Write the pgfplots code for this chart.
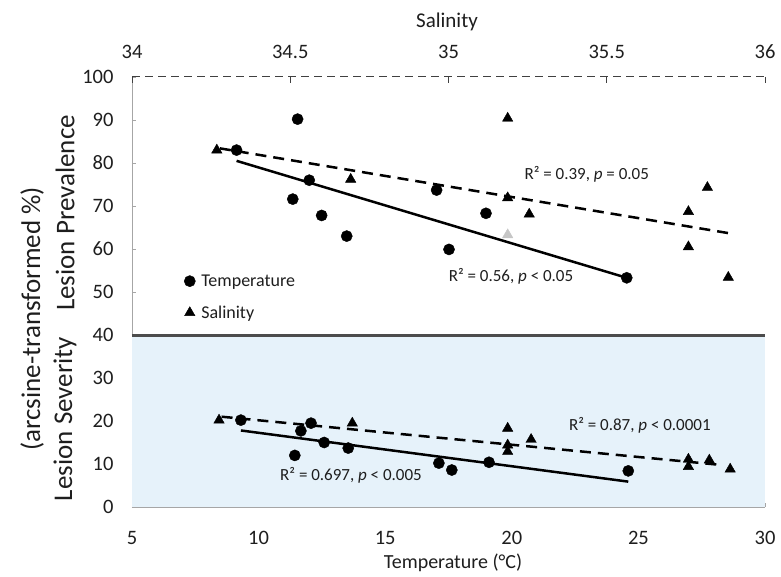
\documentclass[border=0pt]{standalone}
\usepackage{fontspec}
\setmainfont{Carlito}
\usepackage{pgfplots}
\pgfplotsset{compat=1.18}
\definecolor{bluebg}{RGB}{230,242,250}
\definecolor{txt}{RGB}{30,30,30}
\begin{document}
\begin{tikzpicture}
\path[use as bounding box] (-132pt,-69pt) rectangle (649pt,507pt);
% ---------- main axis: temperature ----------
\begin{axis}[
  at={(0pt,0pt)}, anchor=south west,
  scale only axis, width=633pt, height=430pt,
  xmin=5, xmax=30, ymin=0, ymax=100,
  axis x line*=bottom, axis y line*=left,
  axis line style={gray!70, line width=0.8pt, -},
  xtick={5,10,...,30}, ytick={0,10,...,100},
  tick align=inside, major tick length=4pt,
  tick style={gray!70, line width=0.6pt},
  /pgf/number format/assume math mode=true,
  ticklabel style={font=\fontsize{20.5}{24}\selectfont, text=txt},
  yticklabel style={xshift=-15pt},
  xticklabel style={yshift=-21pt},
  legend style={at={(0.0815,0.488)}, anchor=west, draw=none, fill=none,
    font=\fontsize{18}{21}\selectfont, text=txt, row sep=15pt, inner sep=0pt,
    nodes={inner sep=1.5pt}},
  legend cell align=left,
  legend image code/.code={\draw[mark repeat=2,mark phase=2,#1] plot coordinates {(0pt,0pt) (6pt,0pt) (12pt,0pt)};\path[draw=none,fill=none] (0pt,0pt) -- (16pt,0pt);},
]
\addplot[draw=none, fill=bluebg, forget plot] coordinates {(5,40) (30,40)} \closedcycle;
\addplot[black!70, line width=3pt, forget plot] coordinates {(5,40) (30,40)};
% regression lines (temperature)
\addplot[black, line width=2.5pt, forget plot] coordinates {(9.13,80.5) (24.54,53.3)};
\addplot[black, line width=2.5pt, forget plot] coordinates {(9.30,17.8) (24.60,5.9)};
% prevalence vs temperature
\addplot[only marks, mark=*, mark size=5.6pt, black] coordinates {
 (11.54,90.2) (9.13,83.0) (12.00,76.0) (11.35,71.6) (12.49,67.8)
 (13.48,63.0) (17.03,73.7) (18.98,68.3) (17.52,59.9) (24.54,53.3)};
\addlegendentry{Temperature}
% severity vs temperature
\addplot[only marks, mark=*, mark size=5.6pt, black, forget plot] coordinates {
 (9.30,20.2) (11.67,17.7) (12.07,19.5) (11.43,12.0) (12.59,15.0)
 (13.54,13.7) (17.12,10.2) (17.63,8.6) (19.10,10.4) (24.60,8.4)};
\addlegendimage{only marks, mark=triangle*, mark size=6pt, black}
\addlegendentry{Salinity}
\node[font=\fontsize{17}{20}\selectfont, text=txt] at (axis cs:22.96,77.4) {R² = 0.39, \textit{p} = 0.05};
\node[font=\fontsize{17}{20}\selectfont, text=txt] at (axis cs:19.97,53.7) {R² = 0.56, \textit{p} < 0.05};
\node[font=\fontsize{17}{20}\selectfont, text=txt] at (axis cs:25.06,19.1) {R² = 0.87, \textit{p} < 0.0001};
\node[font=\fontsize{17}{20}\selectfont, text=txt] at (axis cs:13.65,7.4) {R² = 0.697, \textit{p} < 0.005};
\end{axis}
% ---------- secondary axis: salinity ----------
\begin{axis}[
  at={(0pt,0pt)}, anchor=south west,
  scale only axis, width=633pt, height=430pt,
  xmin=34, xmax=36, ymin=0, ymax=100,
  axis x line*=top, axis y line=none,
  axis line style={black!75, line width=1pt, dash pattern=on 8pt off 5pt, -},
  xtick={34,34.5,35,35.5,36},
  tick align=inside, major tick length=6pt,
  tick style={black!75, line width=1pt, solid},
  /pgf/number format/assume math mode=true,
  ticklabel style={font=\fontsize{20.5}{24}\selectfont, text=txt},
  xticklabel style={yshift=15pt},
]
\addplot[black, line width=2.5pt, dash pattern=on 11pt off 7pt] coordinates {(34.278,83.4) (35.884,63.7)};
\addplot[black, line width=2.5pt, dash pattern=on 11pt off 7pt] coordinates {(34.283,21.0) (35.858,9.8)};
\addplot[only marks, mark=triangle*, mark size=6pt, black] coordinates {
 (34.268,83.0) (34.691,76.2) (35.187,90.4) (35.187,71.9) (35.255,68.1)
 (35.818,74.3) (35.758,68.7) (35.758,60.5) (35.884,53.4)};
\addplot[only marks, mark=triangle*, mark size=6pt, gray!45] coordinates {(35.187,63.3)};
\addplot[only marks, mark=triangle*, mark size=6pt, black] coordinates {
 (34.275,20.2) (34.696,19.5) (35.187,18.3) (35.187,14.4) (35.187,12.9)
 (35.261,15.7) (35.758,11.1) (35.758,9.4) (35.824,10.9) (35.890,8.8)};
\end{axis}
% ---------- outer labels ----------
\node[rotate=90, font=\fontsize{27}{30}\selectfont, text=txt] at (-100pt,188pt) {(arcsine-transformed \%)};
\node[rotate=90, font=\fontsize{27}{30}\selectfont, text=txt] at (-67pt,294pt) {Lesion Prevalence};
\node[rotate=90, font=\fontsize{27}{30}\selectfont, text=txt] at (-67pt,88pt) {Lesion Severity};
\node[font=\fontsize{20}{24}\selectfont, text=txt] at (321pt,-56pt) {Temperature (°C)};
\node[font=\fontsize{21}{24}\selectfont, text=txt] at (315pt,485pt) {Salinity};
\end{tikzpicture}
\end{document}
